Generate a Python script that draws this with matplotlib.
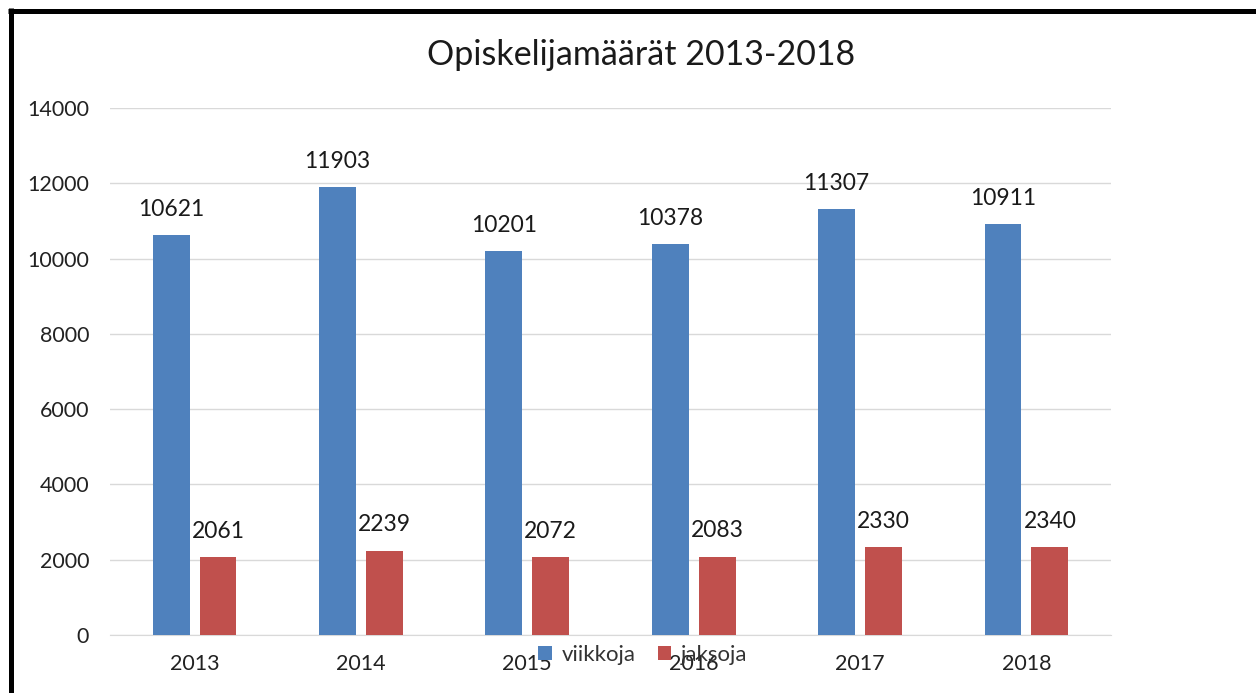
import matplotlib
matplotlib.use("Agg")
import matplotlib.pyplot as plt
from matplotlib.lines import Line2D
import numpy as np

years = ["2013", "2014", "2015", "2016", "2017", "2018"]
viikkoja = [10621, 11903, 10201, 10378, 11307, 10911]
jaksoja = [2061, 2239, 2072, 2083, 2330, 2340]
yticks = [0, 2000, 4000, 6000, 8000, 10000, 12000, 14000]
title = "Opiskelijamäärät 2013-2018"

plt.rcParams['font.family'] = ['Lato', 'DejaVu Sans']

W, H = 1256, 693
fig = plt.figure(figsize=(W/100, H/100), dpi=100)
ax = fig.add_axes([110/W, 1-635/H, (1111-110)/W, (635-108)/H])

x = np.arange(len(years))
bw = 0.222
off = 0.141
blue = "#4F81BD"
red = "#C0504D"
b1 = ax.bar(x - off, viikkoja, bw, color=blue, label="viikkoja", zorder=3)
b2 = ax.bar(x + off, jaksoja, bw, color=red, label="jaksoja", zorder=3)

for rects, vals in ((b1, viikkoja), (b2, jaksoja)):
    for r, v in zip(rects, vals):
        ax.annotate(str(v), (r.get_x() + r.get_width()/2, v), xytext=(0, 11),
                    textcoords="offset points", ha="center", va="bottom",
                    fontsize=16.5, color="#1a1a1a")

ax.set_xlim(-0.508, len(years) - 0.492)
ax.set_ylim(0, 14000)
ax.set_yticks(yticks)
ax.set_yticklabels([str(t) for t in yticks], fontsize=15.5, color="#222222")
ax.set_xticks(x)
ax.set_xticklabels(years, fontsize=15.5, color="#222222")
ax.tick_params(length=0)
ax.tick_params(axis='y', pad=15)
ax.tick_params(axis='x', pad=14)
ax.grid(axis='y', color="#d9d9d9", linewidth=1, zorder=0)
for s in ["top", "right", "left"]:
    ax.spines[s].set_visible(False)
ax.spines["bottom"].set_color("#d9d9d9")

fig.text(641/W, 1-55/H, title, ha="center", va="center", fontsize=24.5, color="#1a1a1a")

leg = fig.legend(loc="center", bbox_to_anchor=(643/W, 1-655/H), ncol=2, frameon=False,
                 fontsize=16, handlelength=0.6, handleheight=0.6, columnspacing=1.0,
                 handletextpad=0.45, labelcolor="#333333")

lw = 5 * 72 / 100
fig.add_artist(Line2D([10.5/W, 10.5/W], [0, 1-8/H], color="black", linewidth=lw, solid_capstyle="butt"))
fig.add_artist(Line2D([8/W, 1], [1-10.5/H, 1-10.5/H], color="black", linewidth=lw, solid_capstyle="butt"))

fig.savefig("out.png", dpi=100)
